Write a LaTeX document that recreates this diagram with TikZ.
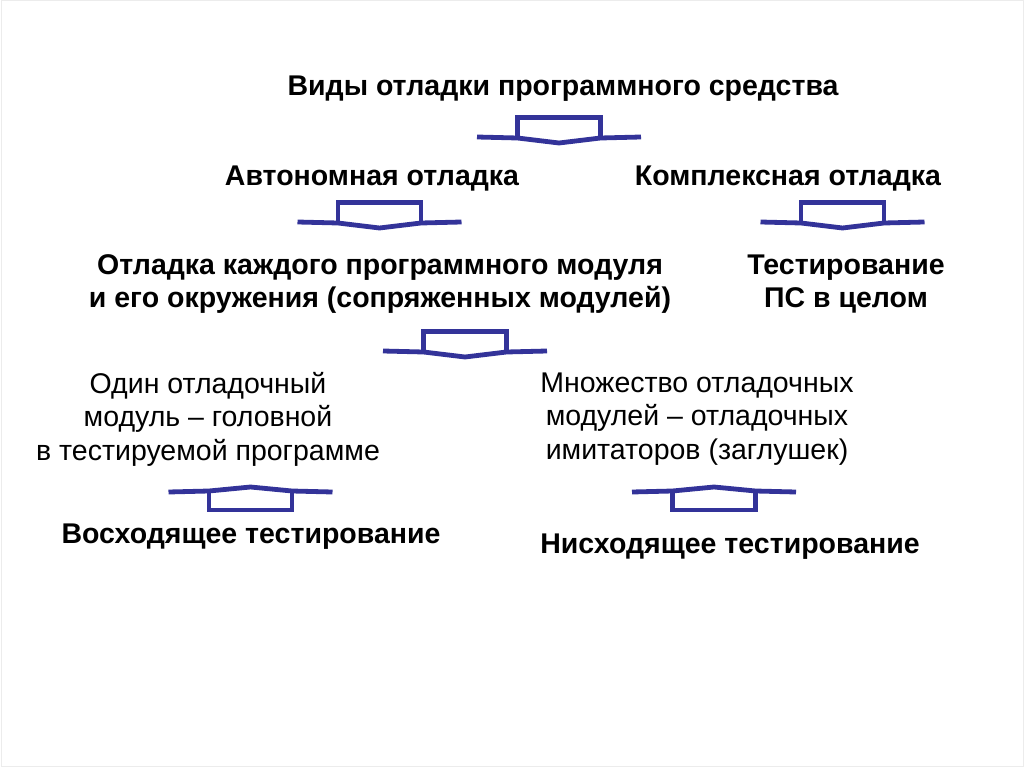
\documentclass[tikz,border=0pt]{standalone}
\usepackage{fontspec}
\setmainfont{Liberation Sans}
\definecolor{arrblue}{RGB}{51,51,153}
\tikzset{
  lbl/.style={inner sep=0pt, align=center, font=\fontsize{28.5}{33}\selectfont\bfseries},
  txt/.style={inner sep=0pt, align=center, font=\fontsize{28.5}{33.5}\selectfont},
  blk/.style={draw=arrblue, line width=4.8pt, line join=miter},
  pics/downarr/.style={code={
    \draw[blk] (-82,0) -- (-41.5,1) -- (0,6) -- (41.5,1) -- (82,0);
    \draw[blk] (-41.5,1) -- (-41.5,-19.5) -- (41.5,-19.5) -- (41.5,1);
  }},
  pics/uparr/.style={code={
    \draw[blk] (-82,0) -- (-41.5,-1) -- (0,-5) -- (41.5,-1) -- (82,0);
    \draw[blk] (-41.5,-1) -- (-41.5,18) -- (41.5,18) -- (41.5,-1);
  }}
}
\begin{document}
\begin{tikzpicture}[x=1pt,y=-1pt]
\useasboundingbox (0,0) rectangle (1024,767);
\draw[gray!15, line width=1pt] (1,1) rectangle (1023,766);

\node[lbl] (title) at (563,89) {Виды отладки программного средства};
\node[lbl] (auto) at (372,179) {Автономная отладка};
\node[lbl] (compl) at (788,179) {Комплексная отладка};
\node[lbl] (mod) at (380,284) {Отладка каждого программного модуля\\и его окружения (сопряженных модулей)};
\node[lbl] (test) at (846,284) {Тестирование\\ПС в целом};
\node[txt] (one) at (208,419) {Один отладочный\\модуль – головной\\в тестируемой программе};
\node[txt] (many) at (697,419) {Множество отладочных\\модулей – отладочных\\имитаторов (заглушек)};
\node[lbl] (up) at (251,537) {Восходящее тестирование};
\node[lbl] (down) at (730,547) {Нисходящее тестирование};

\pic at (559,137) {downarr};
\pic at (379.5,222) {downarr};
\pic at (842.5,222) {downarr};
\pic at (465,351) {downarr};
\pic at (250.5,492) {uparr};
\pic at (714,492) {uparr};
\end{tikzpicture}
\end{document}
